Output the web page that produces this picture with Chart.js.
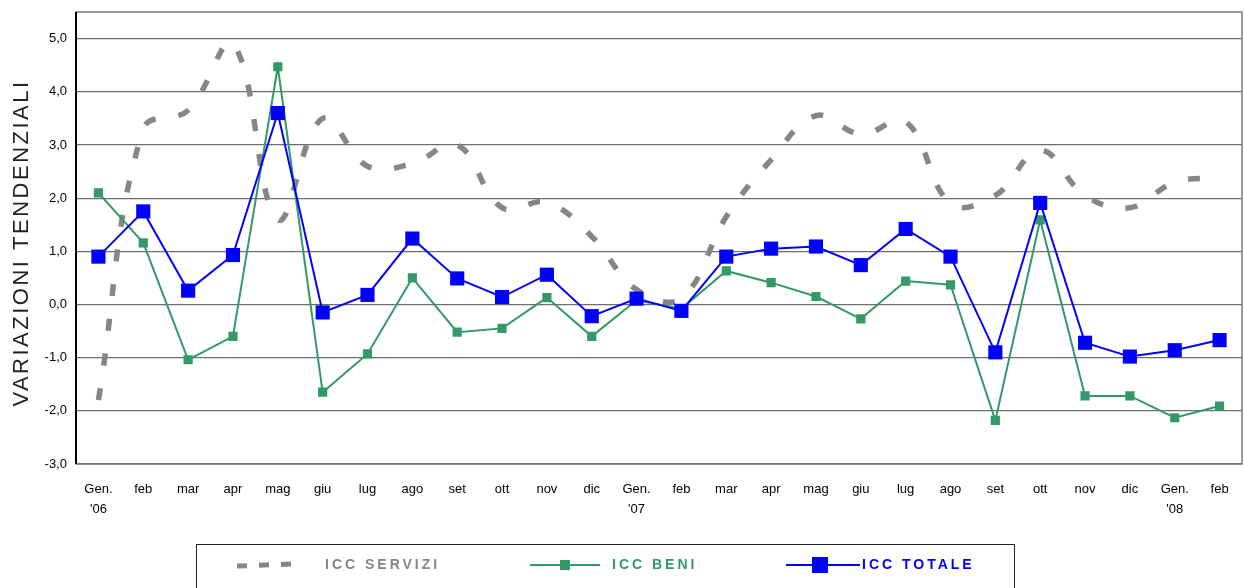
<!DOCTYPE html>
<html>
<head>
<meta charset="utf-8">
<script src="https://cdn.jsdelivr.net/npm/chart.js@4/dist/chart.umd.min.js"></script>
<style>
  body { margin: 0; background: #fff; overflow: hidden; }
  canvas { display: block; }
</style>
</head>
<body>
<canvas id="icc" width="1244" height="588"></canvas>
<script>
// categorie (mesi)
var categories = [["Gen.", "'06"], "feb", "mar", "apr", "mag", "giu", "lug", "ago", "set", "ott", "nov", "dic",
                  ["Gen.", "'07"], "feb", "mar", "apr", "mag", "giu", "lug", "ago", "set", "ott", "nov", "dic",
                  ["Gen.", "'08"], "feb"];

var iccServizi = [-1.8, 3.3, 3.65, 4.9, 1.6, 3.5, 2.6, 2.65, 3.0, 1.82, 1.92, 1.28,
                  0.28, 0.12, 1.65, 2.72, 3.55, 3.2, 3.44, 1.9, 2.05, 2.9, 2.05, 1.82,
                  2.3, 2.38];

var iccBeni = [2.1, 1.16, -1.04, -0.6, 4.47, -1.65, -0.93, 0.5, -0.52, -0.45, 0.13, -0.6,
               0.08, -0.08, 0.63, 0.41, 0.15, -0.27, 0.44, 0.37, -2.18, 1.59, -1.72, -1.72,
               -2.13, -1.91];

var iccTotale = [0.9, 1.75, 0.26, 0.93, 3.6, -0.15, 0.18, 1.24, 0.49, 0.14, 0.56, -0.22,
                 0.11, -0.12, 0.9, 1.05, 1.09, 0.74, 1.42, 0.9, -0.9, 1.91, -0.72, -0.98,
                 -0.86, -0.67];

var yTicks = [-3, -2, -1, 0, 1, 2, 3, 4, 5];
var yTitle = 'VARIAZIONI TENDENZIALI';

// cornice del grafico + titolo asse y
var framePlugin = {
  id: 'frame',
  beforeDatasetsDraw: function(chart) {
    var a = chart.chartArea, ctx = chart.ctx;
    ctx.save();
    ctx.strokeStyle = '#7a7a7a';
    ctx.lineWidth = 1.5;
    ctx.strokeRect(a.left, a.top, a.right - a.left, a.bottom - a.top);
    ctx.strokeStyle = '#000';
    ctx.lineWidth = 2;
    ctx.beginPath();
    ctx.moveTo(a.left, a.top);
    ctx.lineTo(a.left, a.bottom);
    ctx.stroke();

    ctx.translate(22, 243);
    ctx.rotate(-Math.PI / 2);
    ctx.font = '22px "Liberation Sans", Arial, sans-serif';
    ctx.letterSpacing = '2.5px';
    ctx.fillStyle = '#222';
    ctx.textAlign = 'center';
    ctx.textBaseline = 'middle';
    ctx.fillText(yTitle, 0, 0);
    ctx.restore();
  }
};

// legenda in riquadro sotto il grafico
var boxLegend = {
  id: 'boxLegend',
  afterDraw: function(chart) {
    var ctx = chart.ctx;
    var ds = chart.data.datasets;
    var y = 565;
    ctx.save();
    ctx.strokeStyle = '#222';
    ctx.lineWidth = 1;
    ctx.strokeRect(196.5, 544.5, 818, 60);

    ctx.font = 'bold 14px "Liberation Sans", Arial, sans-serif';
    ctx.letterSpacing = '3px';
    ctx.textBaseline = 'middle';

    // servizi
    ctx.strokeStyle = ds[0].borderColor;
    ctx.lineWidth = 5;
    ctx.setLineDash([10, 12]);
    ctx.beginPath();
    ctx.moveTo(237, y + 1);
    ctx.lineTo(292, y - 1);
    ctx.stroke();
    ctx.setLineDash([]);
    ctx.fillStyle = ds[0].borderColor;
    ctx.fillText(ds[0].label, 325, y);

    // beni
    ctx.strokeStyle = ds[1].borderColor;
    ctx.lineWidth = 2;
    ctx.beginPath();
    ctx.moveTo(530, y);
    ctx.lineTo(600, y);
    ctx.stroke();
    ctx.fillStyle = ds[1].borderColor;
    ctx.fillRect(560, y - 5, 10, 10);
    ctx.fillText(ds[1].label, 612, y);

    // totale
    ctx.strokeStyle = ds[2].borderColor;
    ctx.beginPath();
    ctx.moveTo(786, y);
    ctx.lineTo(860, y);
    ctx.stroke();
    ctx.fillStyle = ds[2].borderColor;
    ctx.fillRect(812, y - 8, 16, 16);
    ctx.fillText(ds[2].label, 862, y);
    ctx.restore();
  }
};

new Chart(document.getElementById('icc'), {
  type: 'line',
  data: {
    labels: categories,
    datasets: [
      {
        label: 'ICC SERVIZI',
        data: iccServizi,
        borderColor: '#868686',
        borderWidth: 5.5,
        borderDash: [12, 23],
        tension: 0.4,
        pointRadius: 0,
        order: 3
      },
      {
        label: 'ICC BENI',
        data: iccBeni,
        borderColor: '#339966',
        backgroundColor: '#339966',
        borderWidth: 2,
        pointStyle: 'rect',
        pointRadius: 6.5,
        pointBorderWidth: 0,
        tension: 0,
        order: 2
      },
      {
        label: 'ICC TOTALE',
        data: iccTotale,
        borderColor: '#0000ff',
        backgroundColor: '#0000ff',
        borderWidth: 2,
        pointStyle: 'rect',
        pointRadius: 10,
        pointBorderWidth: 0,
        tension: 0,
        order: 1
      }
    ]
  },
  options: {
    responsive: false,
    animation: false,
    layout: { autoPadding: false, padding: { top: 12, right: 2, left: 0, bottom: 0 } },
    plugins: {
      legend: { display: false },
      tooltip: { enabled: false }
    },
    scales: {
      x: {
        offset: true,
        grid: { display: false, drawTicks: false },
        border: { display: false },
        ticks: {
          color: '#000',
          padding: 16,
          maxRotation: 0,
          autoSkip: false,
          font: { family: '"Liberation Sans", Arial, sans-serif', size: 13, lineHeight: 1.5 }
        },
        afterFit: function(scale) {
          scale.height = 124;
          scale.paddingLeft = 0;
          scale.paddingRight = 0;
        }
      },
      y: {
        min: -3,
        max: 5.5,
        afterBuildTicks: function(scale) {
          scale.ticks = yTicks.map(function(v) { return { value: v }; });
        },
        grid: { color: '#6e6e6e', lineWidth: 1.2, drawTicks: false },
        border: { display: false },
        ticks: {
          color: '#000',
          padding: 9,
          font: { family: '"Liberation Sans", Arial, sans-serif', size: 13 },
          callback: function(v) { return v.toFixed(1).replace('.', ','); }
        },
        afterFit: function(scale) {
          scale.width = 76;
          scale.paddingTop = 0;
          scale.paddingBottom = 0;
        }
      }
    }
  },
  plugins: [framePlugin, boxLegend]
});
</script>
</body>
</html>
